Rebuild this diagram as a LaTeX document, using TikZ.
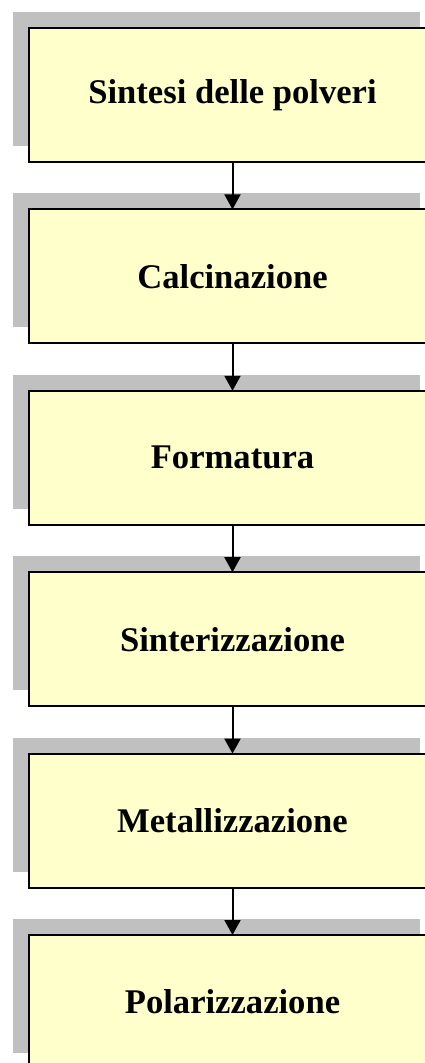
\documentclass[tikz,border=0pt]{standalone}
\usepackage{fontspec}
\setmainfont{Liberation Serif}
\usetikzlibrary{shadows,arrows.meta}
\definecolor{boxyellow}{HTML}{FFFFCC}
\definecolor{shadowgray}{HTML}{C0C0C0}

\begin{document}
\begin{tikzpicture}[x=1pt, y=-1pt,
  every node/.style={draw=black, line width=2pt, fill=boxyellow, minimum width=407pt, minimum height=134pt, inner sep=0pt, outer sep=0pt, font=\fontsize{34.6}{40}\selectfont\bfseries, general shadow={fill=shadowgray, draw=none, shadow xshift=-16pt, shadow yshift=16pt}},
  flow/.style={line width=2pt, -{Triangle[width=16pt,length=15pt]}}]
\useasboundingbox (0,0) rectangle (425,1063);
\clip (0,0) rectangle (425,1063);

\node (synth) at (232.5,95) {Sintesi delle polveri};
\node (calc) at (232.5,276.4) {Calcinazione};
\node (form) at (232.5,457.8) {Formatura};
\node (sint) at (232.5,639.2) {Sinterizzazione};
\node (metal) at (232.5,820.6) {Metallizzazione};
\node (polar) at (232.5,1002) {Polarizzazione};

\draw[flow] (synth) -- (calc);
\draw[flow] (calc) -- (form);
\draw[flow] (form) -- (sint);
\draw[flow] (sint) -- (metal);
\draw[flow] (metal) -- (polar);
\end{tikzpicture}
\end{document}
